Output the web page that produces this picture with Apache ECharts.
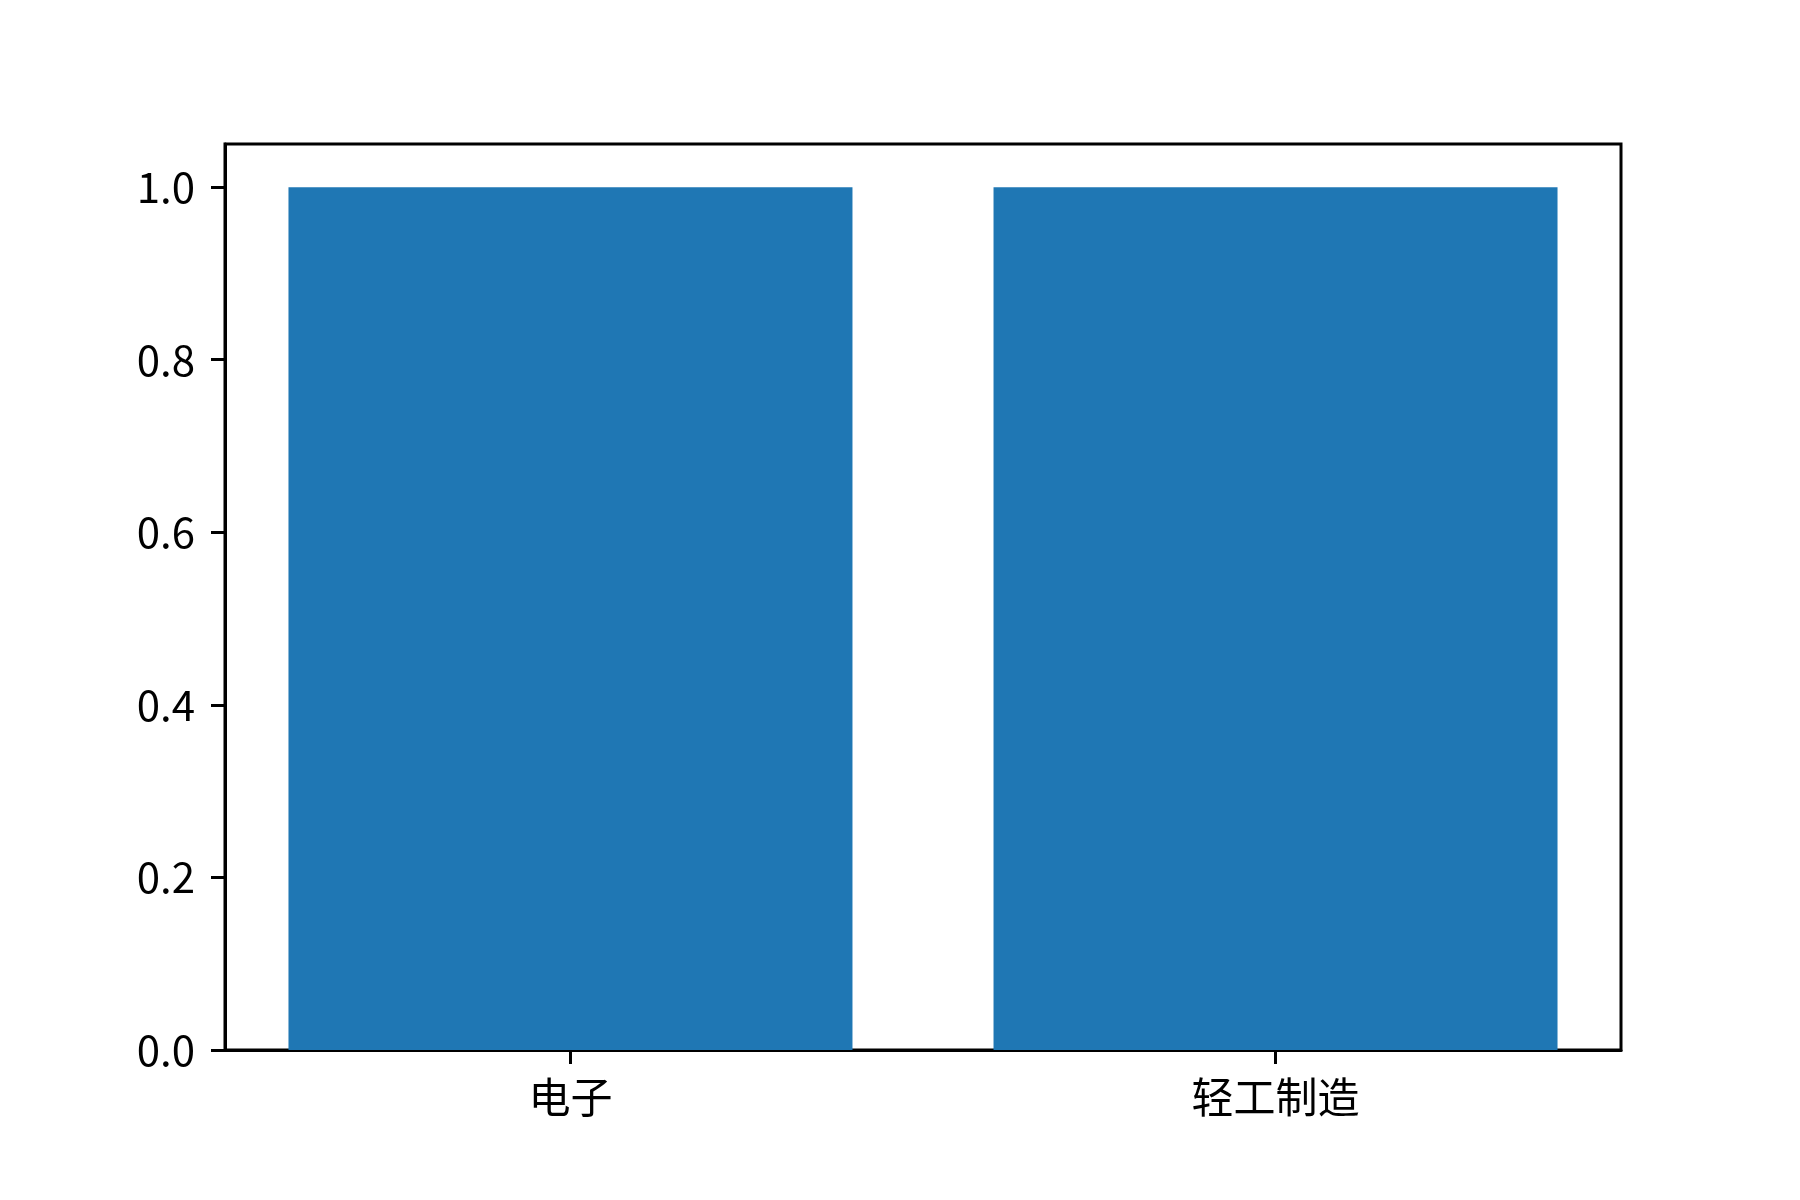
<!DOCTYPE html>
<html>
<head>
<meta charset="utf-8">
<script src="https://cdn.jsdelivr.net/npm/echarts@6/dist/echarts.min.js"></script>
<style>
    html, body { margin: 0; padding: 0; background: #fff; }
    #chart { width: 1800px; height: 1200px; }
</style>
</head>
<body>
<div id="chart"></div>
<script>
// ---------------- DATA ----------------
const categories = ['电子', '轻工制造'];
const values = [1, 1];
const yTicks = [0, 0.2, 0.4, 0.6, 0.8, 1.0];

const chart = echarts.init(document.getElementById('chart'), null, { renderer: 'canvas' });

const font = '"Noto Sans CJK SC", "DejaVu Sans", sans-serif';
const positions = categories.map((c, i) => i);

chart.setOption({
    animation: false,
    backgroundColor: '#fff',
    grid: {
        left: 225, right: 179, top: 144, bottom: 150,
        show: true, borderColor: '#000', borderWidth: 3, backgroundColor: 'transparent'
    },
    xAxis: {
        type: 'value',
        min: -0.49,
        max: 1.49,
        splitLine: { show: false },
        axisLine: { show: true, onZero: false, lineStyle: { color: '#000', width: 3 } },
        axisTick: { show: true, length: 14, lineStyle: { color: '#000', width: 3 }, customValues: positions },
        axisLabel: {
            customValues: positions,
            formatter: v => categories[Math.round(v)] || '',
            color: '#000', fontSize: 42, fontFamily: font, margin: 26
        }
    },
    yAxis: {
        type: 'value',
        min: 0,
        max: 1.05,
        splitLine: { show: false },
        axisLine: { show: true, onZero: false, lineStyle: { color: '#000', width: 3 } },
        axisTick: { show: true, length: 14, lineStyle: { color: '#000', width: 3 }, customValues: yTicks },
        axisLabel: {
            customValues: yTicks,
            formatter: v => v.toFixed(1),
            color: '#000', fontSize: 42, fontFamily: font, margin: 30
        }
    },
    series: [{
        type: 'bar',
        barWidth: 564,
        itemStyle: { color: '#1f77b4' },
        data: positions.map(i => [i, values[i]])
    }]
});
</script>
</body>
</html>
